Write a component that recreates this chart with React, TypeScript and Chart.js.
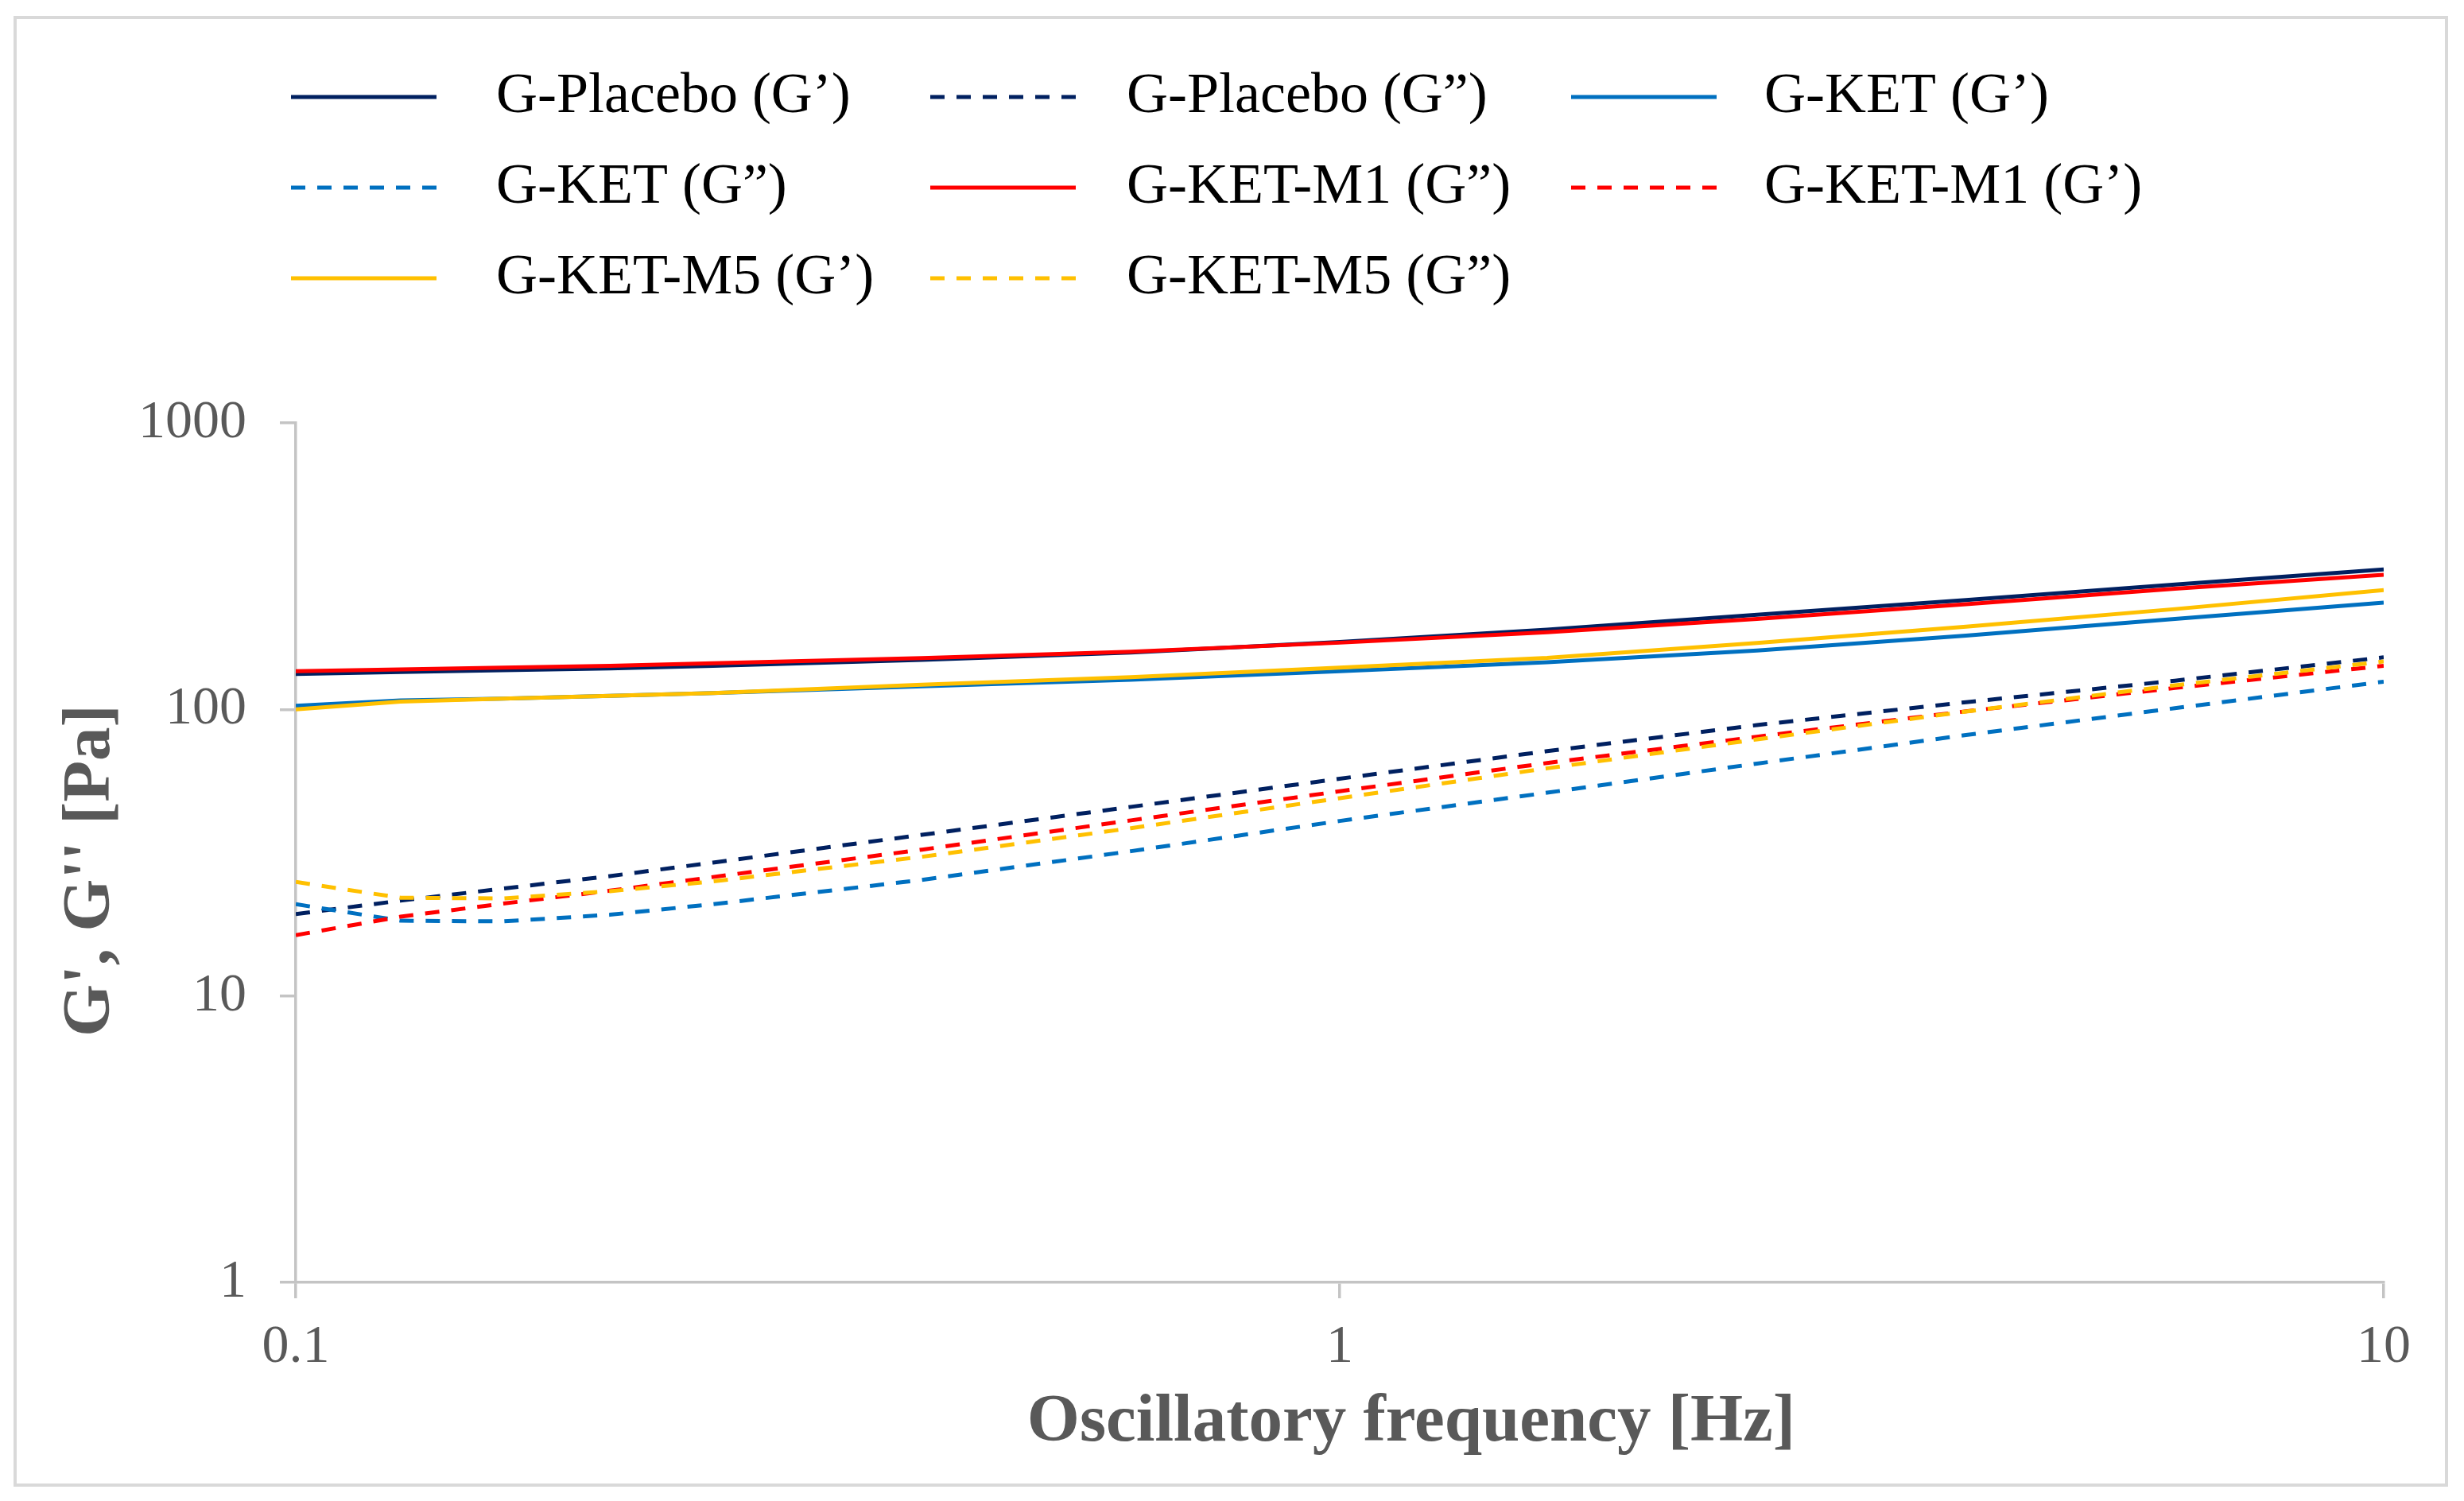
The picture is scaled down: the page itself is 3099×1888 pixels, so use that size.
import { useEffect, useRef } from 'react';
import { Chart, registerables } from 'chart.js';

Chart.register(...registerables);

// oscillatory frequency sweep [Hz]
const freqHz = [0.1, 0.126, 0.158, 0.2, 0.251, 0.398, 0.631, 1, 1.58, 2.51, 3.98, 6.31, 10];

// moduli [Pa]
const placeboStorage = [133, 135, 137, 139, 142, 149, 158, 172, 190, 214, 241, 273, 308];
const placeboLoss = [19.3, 21.5, 23.7, 26.2, 29.2, 36.5, 45.7, 57.3, 71.5, 88.2, 106, 126, 152];
const ketStorage = [103, 107.5, 109, 111.5, 114, 120.5, 127, 136, 146, 160.5, 181, 207, 236];
const ketLoss = [20.9, 18.3, 18.2, 19.2, 20.9, 25.4, 32.0, 40.8, 51.2, 64.7, 81.4, 101, 125];
const m1Solid = [136, 138, 140, 142, 145, 151, 159, 171, 186, 207, 233, 264, 295];
const m1Dashed = [16.3, 18.9, 21.0, 23.3, 26.0, 32.4, 41.0, 51.8, 65.0, 80.3, 98.5, 118.8, 142];
const m5Storage = [100, 106.5, 109, 111.5, 114, 122, 129.7, 140, 151.3, 170.7, 194.6, 224, 261];
const m5Loss = [25.0, 22.0, 21.9, 23.2, 25.1, 30.6, 38.5, 49.0, 62.3, 78.6, 98.3, 121.4, 147];

const xTickValues = [0.1, 1, 10];
const yTickValues = [1, 10, 100, 1000];

const NAVY = '#002060';
const BLUE = '#0070C0';
const RED = '#FF0000';
const GOLD = '#FFC000';
const DASH = [18, 15];
const LINE_W = 5;
const SERIF = '"Liberation Serif", "Times New Roman", serif';

const series = [
  { label: 'G-Placebo (G\u2019)', values: placeboStorage, color: NAVY, dashed: false },
  { label: 'G-Placebo (G\u201D)', values: placeboLoss, color: NAVY, dashed: true },
  { label: 'G-KET (G\u2019)', values: ketStorage, color: BLUE, dashed: false },
  { label: 'G-KET (G\u201D)', values: ketLoss, color: BLUE, dashed: true },
  { label: 'G-KET-M1 (G\u201D)', values: m1Solid, color: RED, dashed: false },
  { label: 'G-KET-M1 (G\u2019)', values: m1Dashed, color: RED, dashed: true },
  { label: 'G-KET-M5 (G\u2019)', values: m5Storage, color: GOLD, dashed: false },
  { label: 'G-KET-M5 (G\u201D)', values: m5Loss, color: GOLD, dashed: true },
];

// legend grid + axis titles drawn by hand (Excel-like layout)
const legendLineX = [366, 1170, 1976];
const legendTextX = [624, 1417, 2219];
const legendRowY = [122, 236, 350];

const decorPlugin = {
  id: 'decor',
  afterDraw(chart: Chart) {
    const ctx = chart.ctx;
    ctx.save();
    series.forEach((s, i) => {
      const col = i % 3;
      const y = legendRowY[Math.floor(i / 3)];
      ctx.strokeStyle = s.color;
      ctx.lineWidth = LINE_W;
      ctx.lineCap = 'butt';
      ctx.setLineDash(s.dashed ? DASH : []);
      ctx.beginPath();
      ctx.moveTo(legendLineX[col], y);
      ctx.lineTo(legendLineX[col] + 183, y);
      ctx.stroke();
      ctx.setLineDash([]);
      ctx.fillStyle = '#000000';
      ctx.font = `72px ${SERIF}`;
      ctx.textAlign = 'left';
      ctx.textBaseline = 'middle';
      ctx.fillText(s.label, legendTextX[col], y);
    });

    ctx.fillStyle = '#595959';
    ctx.font = `bold 85px ${SERIF}`;
    ctx.textAlign = 'center';
    ctx.textBaseline = 'middle';
    ctx.fillText('Oscillatory frequency [Hz]', 1775, 1790);

    ctx.translate(115, 1095);
    ctx.rotate(-Math.PI / 2);
    ctx.fillText("G', G'' [Pa]", 0, 0);
    ctx.restore();
  },
};

export default function App() {
  const chartRef = useRef<HTMLCanvasElement>(null);
  const chartInstance = useRef<Chart | null>(null);

  useEffect(() => {
    document.body.style.margin = '0';
    if (!chartRef.current) return;
    if (chartInstance.current) chartInstance.current.destroy();
    const ctx = chartRef.current.getContext('2d');
    if (!ctx) return;

    chartInstance.current = new Chart(ctx, {
      type: 'scatter',
      data: {
        datasets: series.map((s, i) => ({
          label: s.label,
          data: freqHz.map((f, k) => ({ x: f, y: s.values[k] })),
          showLine: true,
          borderColor: s.color,
          backgroundColor: s.color,
          borderWidth: LINE_W,
          borderDash: s.dashed ? DASH : [],
          borderCapStyle: 'butt',
          borderJoinStyle: 'round',
          pointRadius: 0,
          pointHoverRadius: 0,
          tension: 0,
          order: series.length - i,
        })),
      },
      options: {
        animation: false,
        responsive: true,
        maintainAspectRatio: false,
        layout: { padding: { top: 532, right: 101, left: 0, bottom: 0 } },
        plugins: {
          legend: { display: false },
          tooltip: { enabled: false },
        },
        scales: {
          x: {
            type: 'logarithmic',
            min: 0.1,
            max: 10,
            afterBuildTicks: (axis: any) => {
              axis.ticks = xTickValues.map((value) => ({ value }));
            },
            afterFit: (scale: any) => {
              scale.height = 275;
            },
            ticks: {
              callback: (v: any) => String(v),
              color: '#595959',
              font: { family: SERIF, size: 68 },
              padding: 21,
              maxRotation: 0,
              autoSkip: false,
            },
            grid: { drawOnChartArea: false, drawTicks: true, tickLength: 20, color: '#c4c4c4', lineWidth: 3.5 },
            border: { color: '#c4c4c4', width: 3.5 },
          },
          y: {
            type: 'logarithmic',
            min: 1,
            max: 1000,
            afterBuildTicks: (axis: any) => {
              axis.ticks = yTickValues.map((value) => ({ value }));
            },
            afterFit: (scale: any) => {
              scale.width = 372;
            },
            ticks: {
              callback: (v: any) => String(v),
              color: '#595959',
              font: { family: SERIF, size: 68 },
              padding: 42,
              autoSkip: false,
            },
            grid: { drawOnChartArea: false, drawTicks: true, tickLength: 20, color: '#c4c4c4', lineWidth: 3.5 },
            border: { color: '#c4c4c4', width: 3.5 },
          },
        },
      },
      plugins: [decorPlugin],
    });

    return () => {
      if (chartInstance.current) {
        chartInstance.current.destroy();
        chartInstance.current = null;
      }
    };
  }, []);

  return (
    <div style={{ position: 'relative', width: 3099, height: 1888, background: '#ffffff' }}>
      <canvas ref={chartRef}></canvas>
      <div
        style={{
          position: 'absolute',
          left: 17,
          top: 20,
          width: 3062,
          height: 1850,
          border: '4px solid #d9d9d9',
          boxSizing: 'border-box',
          pointerEvents: 'none',
        }}
      />
    </div>
  );
}
